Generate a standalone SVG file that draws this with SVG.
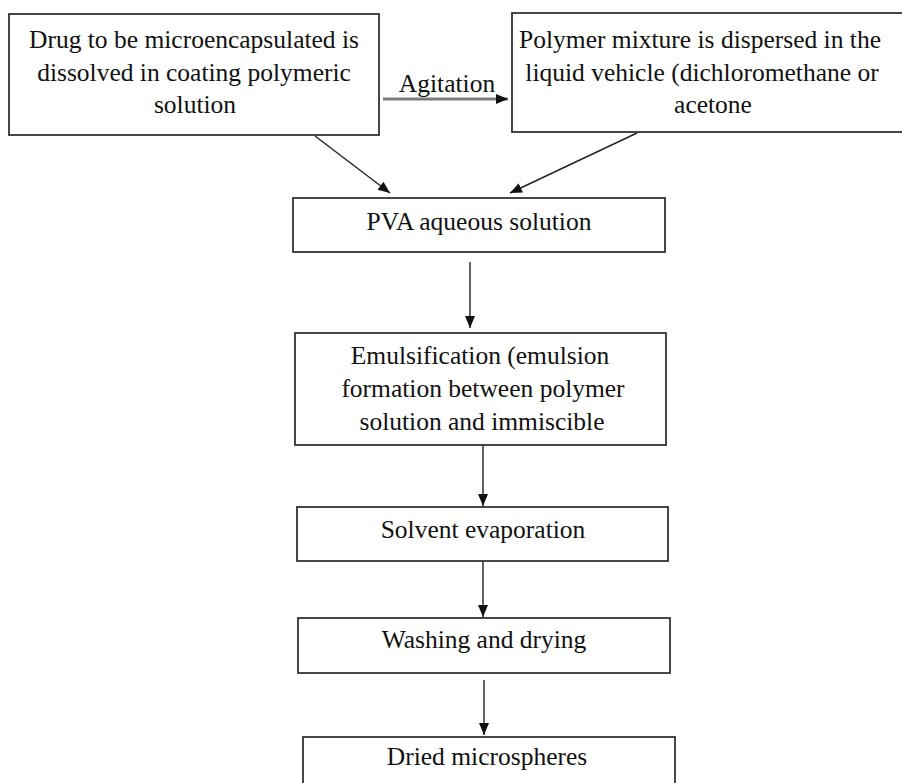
<svg xmlns="http://www.w3.org/2000/svg" width="902" height="783" viewBox="0 0 902 783">
<defs>
<style>
.box{fill:#fff;stroke:#333;stroke-width:1.8}
.t{font-family:"Liberation Serif","Times New Roman",serif;font-size:25.5px;fill:#111;text-anchor:middle}
.c{stroke:#222;stroke-width:1.4;fill:none}
.g{stroke:#7a7a7a;stroke-width:3;fill:none}
</style>
<marker id="ah" markerUnits="userSpaceOnUse" markerWidth="13" markerHeight="11" refX="12" refY="5" orient="auto">
<path d="M0,0 L12,5 L0,10 z" fill="#111"/>
</marker>
</defs>
<rect width="902" height="783" fill="#fff"/>
<g id="connectors">
<line class="g" x1="383" y1="99" x2="508" y2="99" marker-end="url(#ah)"/>
<line class="c" x1="315" y1="136" x2="390" y2="193" marker-end="url(#ah)"/>
<line class="c" x1="637" y1="133" x2="510" y2="193" marker-end="url(#ah)"/>
<line class="c" x1="470" y1="262" x2="470" y2="328" marker-end="url(#ah)"/>
<line class="c" x1="483" y1="445" x2="483" y2="506" marker-end="url(#ah)"/>
<line class="c" x1="483" y1="561" x2="483" y2="617" marker-end="url(#ah)"/>
<line class="c" x1="484" y1="680" x2="484" y2="735" marker-end="url(#ah)"/>
<text class="t" x="447" y="92">Agitation</text>
</g>
<g id="node-drug">
<rect class="box" x="9" y="14" width="370" height="121"/>
<text class="t" x="194" y="48">Drug to be microencapsulated is</text>
<text class="t" x="194" y="81">dissolved in coating polymeric</text>
<text class="t" x="195" y="113">solution</text>
</g>
<g id="node-polymer">
<rect class="box" x="512" y="13" width="400" height="119"/>
<text class="t" x="700" y="48">Polymer mixture is dispersed in the</text>
<text class="t" x="702" y="81">liquid vehicle (dichloromethane or</text>
<text class="t" x="713" y="113">acetone</text>
</g>
<g id="node-pva">
<rect class="box" x="293" y="198" width="372" height="54"/>
<text class="t" x="479" y="230">PVA aqueous solution</text>
</g>
<g id="node-emulsification">
<rect class="box" x="295" y="333" width="371" height="112"/>
<text class="t" x="480" y="364">Emulsification (emulsion</text>
<text class="t" x="483" y="397">formation between polymer</text>
<text class="t" x="482" y="430">solution and immiscible</text>
</g>
<g id="node-solvent">
<rect class="box" x="297" y="507" width="371" height="54"/>
<text class="t" x="483" y="538">Solvent evaporation</text>
</g>
<g id="node-washing">
<rect class="box" x="298" y="618" width="372" height="55"/>
<text class="t" x="484" y="648">Washing and drying</text>
</g>
<g id="node-dried">
<rect class="box" x="303" y="737" width="372" height="60"/>
<text class="t" x="487" y="765">Dried microspheres</text>
</g>
</svg>
